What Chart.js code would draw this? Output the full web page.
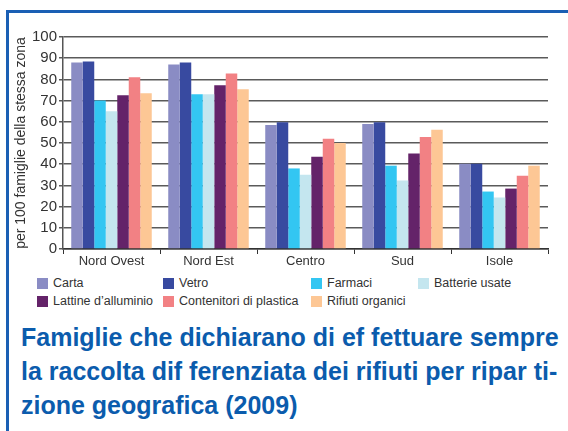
<!DOCTYPE html>
<html lang="it">
<head>
  <meta charset="utf-8">
  <title>Raccolta differenziata</title>
  <style>
    body { margin: 0; background: #fff; font-family: "Liberation Sans", Arial, sans-serif; }
    #frame { position: absolute; left: 6px; top: 10px; width: 562px; height: 421px;
             border-left: 3px solid #1a5fb4; border-top: 3px solid #1a5fb4; }
    #chartBox { position: absolute; left: 0; top: 0; width: 568px; height: 270px; }
    #legend { position: absolute; left: 37px; top: 276px; display: grid;
              grid-template-columns: 126px 148px 107px auto; row-gap: 4px;
              font-size: 12.5px; color: #333; line-height: 14px; }
    #legend div { display: flex; align-items: center; white-space: nowrap; }
    #legend span.box { display: inline-block; width: 11px; height: 11px; margin-right: 5px; }
    #title { position: absolute; left: 21px; top: 320px; width: 545px; color: #0b5cad;
             font-weight: bold; font-size: 25px; line-height: 34px; white-space: nowrap; }
  </style>
</head>
<body>
<div id="frame"></div>
<div id="chartBox"><canvas id="chartCanvas" width="568" height="270"></canvas></div>
<div id="legend"></div>
<div id="title">Famiglie che dichiarano di ef fettuare sempre<br>la raccolta dif ferenziata dei rifiuti per ripar ti-<br>zione geografica (2009)</div>

<script src="https://cdn.jsdelivr.net/npm/chart.js"></script>
<script>

   var regions = ['Nord Ovest', 'Nord Est', 'Centro', 'Sud', 'Isole'];
   var seriesNames = ['Carta', 'Vetro', 'Farmaci', 'Batterie usate',
                      'Lattine d\u2019alluminio', 'Contenitori di plastica', 'Rifiuti organici'];
   var seriesColors = ['#8a8cc4', '#384aa0', '#33c6f2', '#c4e6ef', '#642369', '#f28184', '#fdc795'];

   // values per 100 families, one array per material
   var carta       = [88.0, 87.0, 58.5, 59.0, 40.2];
   var vetro       = [88.5, 88.0, 59.8, 59.8, 40.2];
   var farmaci     = [70.0, 73.0, 38.0, 39.3, 27.1];
   var batterie    = [65.0, 73.0, 35.0, 32.3, 24.3];
   var lattine     = [72.5, 77.2, 43.5, 45.0, 28.5];
   var contenitori = [81.0, 82.8, 52.0, 52.8, 34.6];
   var organici    = [73.5, 75.3, 50.0, 56.2, 39.3];

   var yTicks = [0, 10, 20, 30, 40, 50, 60, 70, 80, 90, 100];

   var seriesValues = [carta, vetro, farmaci, batterie, lattine, contenitori, organici];

   var datasets = [];
   for (i = 0; i < seriesNames.length; ++i) {
      datasets.push({
         label: seriesNames[i],
         data: seriesValues[i],
         backgroundColor: seriesColors[i],
         borderWidth: 0,
         barPercentage: 1.0,
         categoryPercentage: 0.83,
      });
   }

   // legend as a 4 column grid like the original
   var legendEl = document.getElementById('legend');
   for (i = 0; i < seriesNames.length; ++i) {
      var item = document.createElement('div');
      var box = document.createElement('span');
      box.className = 'box';
      box.style.background = seriesColors[i];
      item.appendChild(box);
      item.appendChild(document.createTextNode(seriesNames[i]));
      legendEl.appendChild(item);
   }

   var chart = new Chart(document.getElementById('chartCanvas'), {
      type: 'bar',
      data: { labels: regions, datasets: datasets },
      options: {
         responsive: false,
         animation: false,
         layout: { padding: { left: 13, right: 20, top: 37, bottom: 0 } },
         plugins: { legend: { display: false }, tooltip: { enabled: false } },
         scales: {
            x: {
               grid: { offset: true, drawOnChartArea: false, tickLength: 5, color: '#333', lineWidth: 1 },
               border: { color: '#333', width: 1.5 },
               ticks: { color: '#333', font: { size: 13, family: 'Liberation Sans' }, padding: 0 },
               afterFit: function(scale) { scale.height = 21; },
            },
            y: {
               min: 0, max: 100,
               afterBuildTicks: function(scale) { scale.ticks = yTicks.map(function(v) { return { value: v }; }); },
               grid: { color: '#5a5a5a', lineWidth: 1.5, tickLength: 4 },
               border: { color: '#555', width: 1.5 },
               ticks: { color: '#333', font: { size: 15, family: 'Liberation Sans' }, padding: 2, autoSkip: false },
               title: { display: true, text: 'per 100 famiglie della stessa zona', color: '#333',
                        font: { size: 14, family: 'Liberation Sans' }, padding: 0 },
               afterFit: function(scale) { scale.width = 50; },
            }
         }
      }
   });

</script>
</body>
</html>
